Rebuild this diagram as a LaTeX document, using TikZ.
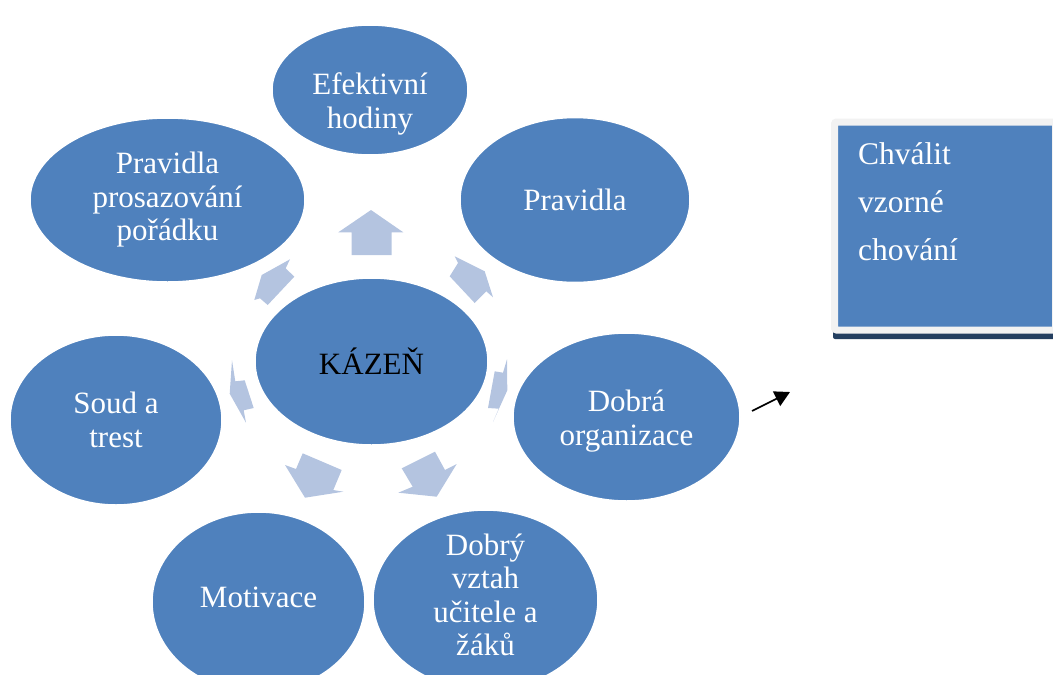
\documentclass[tikz,border=0pt]{standalone}
\usepackage{fontspec}
\setmainfont{Liberation Serif}
\usetikzlibrary{shapes.geometric, arrows.meta, backgrounds}

\definecolor{kblue}{RGB}{79,129,189}
\definecolor{karrow}{RGB}{180,196,224}
\definecolor{kborder}{RGB}{242,242,242}
\definecolor{kshadow}{RGB}{36,63,96}

\newcommand{\bubblefont}{\fontsize{31}{33.5}\selectfont}
\newcommand{\notefont}{\fontsize{31.5}{48}\selectfont}

\begin{document}
\begin{tikzpicture}[
  x=1pt, y=-1pt,
  every node/.style={font=\bubblefont},
  bubble/.style 2 args={
    ellipse, fill=kblue, draw=white, line width=1.5pt,
    minimum width=#1, minimum height=#2,
    inner sep=0pt, text=white, align=center
  },
  bubbletext/.style={text=white, align=center, inner sep=0pt},
  blockarrow/.style={fill=karrow},
  notebox/.style={
    rectangle, fill=kblue, draw=kborder, line width=7pt,
    rounded corners=2pt, minimum width=221pt, minimum height=208pt
  },
  notetext/.style={font=\notefont, text=white, align=left, inner sep=0pt},
  arr/.style={-{Triangle[length=15pt, width=16pt]}, line width=1.6pt},
]
\useasboundingbox (0,0) rectangle (1053,675);

%% Centre
\node[bubble={233pt}{167pt}, text=black] (kazen) at (371.5,361.5) {KÁZEŇ};

%% Satellites
\node[bubble={196pt}{130pt},
  label={[bubbletext, yshift=-14pt]center:Efektivní\\hodiny}] (efek) at (370,90) {};
\node[bubble={230pt}{165pt}] (prav) at (575,200) {Pravidla};
\node[bubble={227pt}{168pt},
  label={[bubbletext, yshift=-4pt]center:Dobrá\\organizace}] (dobra) at (626.5,417) {};
\node[bubble={225pt}{180pt},
  label={[bubbletext, yshift=5pt]center:Dobrý\\vztah\\učitele a\\žáků}] (vztah) at (485.5,600) {};
\node[bubble={213pt}{180pt},
  label={[bubbletext, yshift=5pt]center:Motivace}] (motiv) at (258.5,602) {};
\node[bubble={212pt}{170pt}] (soud) at (116,420) {Soud a\\trest};
\node[bubble={275pt}{164pt}] (pravpros) at (167.5,200) {Pravidla\\prosazování\\pořádku};

%% Block arrows out of the centre
\fill[blockarrow] (351.7,255) -- (351.7,232.3) -- (338.3,232.3) -- (371,210)
  -- (403.3,232.3) -- (391.7,232.3) -- (391.7,255) -- cycle;
\fill[blockarrow] (449.7,276.3) -- (458,263) -- (454.7,256.3) -- (484.7,271.3)
  -- (493,297.3) -- (486.3,291.3) -- (474.7,303) -- cycle;
\fill[blockarrow] (494.7,371.3) -- (503,372.7) -- (507,359.3) -- (507.3,390.3)
  -- (493,422) -- (498.7,408.7) -- (488,408) -- cycle;
\fill[blockarrow] (401.7,468.3) -- (435,451.7) -- (445,470) -- (456.7,464)
  -- (436.7,496.7) -- (398.3,492.7) -- (412.7,486.7) -- cycle;
\fill[blockarrow] (302.7,453.3) -- (341.7,470) -- (333.3,490) -- (343.3,491.7)
  -- (305,497.7) -- (285,465) -- (296,469) -- cycle;
\fill[blockarrow] (232,360.3) -- (235.3,381.3) -- (244.7,380.3) -- (253.7,408)
  -- (243.7,410.3) -- (246,422.7) -- (229.7,393.7) -- cycle;
\fill[blockarrow] (261.7,275) -- (290,259.3) -- (285.7,268.3) -- (294.3,276.7)
  -- (267.7,305) -- (260,298.3) -- (254.3,300) -- cycle;

%% Note box
\node[notebox] (chvalit) at (945,226) {};
\node[notetext, anchor=north west] (chvalittext)
  at ([xshift=27pt, yshift=-24pt]chvalit.north west) {Chválit\\vzorné\\chování};
\begin{scope}[on background layer]
  \fill[kshadow, rounded corners=2pt] ([xshift=2pt, yshift=10pt]chvalit.south west)
    rectangle ([yshift=-5.5pt]chvalit.south east);
\end{scope}

%% Small arrow
\coordinate (arrtail) at (752,411);
\coordinate (arrhead) at (790,392);
\draw[arr] (arrtail) -- (arrhead);

\end{tikzpicture}
\end{document}
